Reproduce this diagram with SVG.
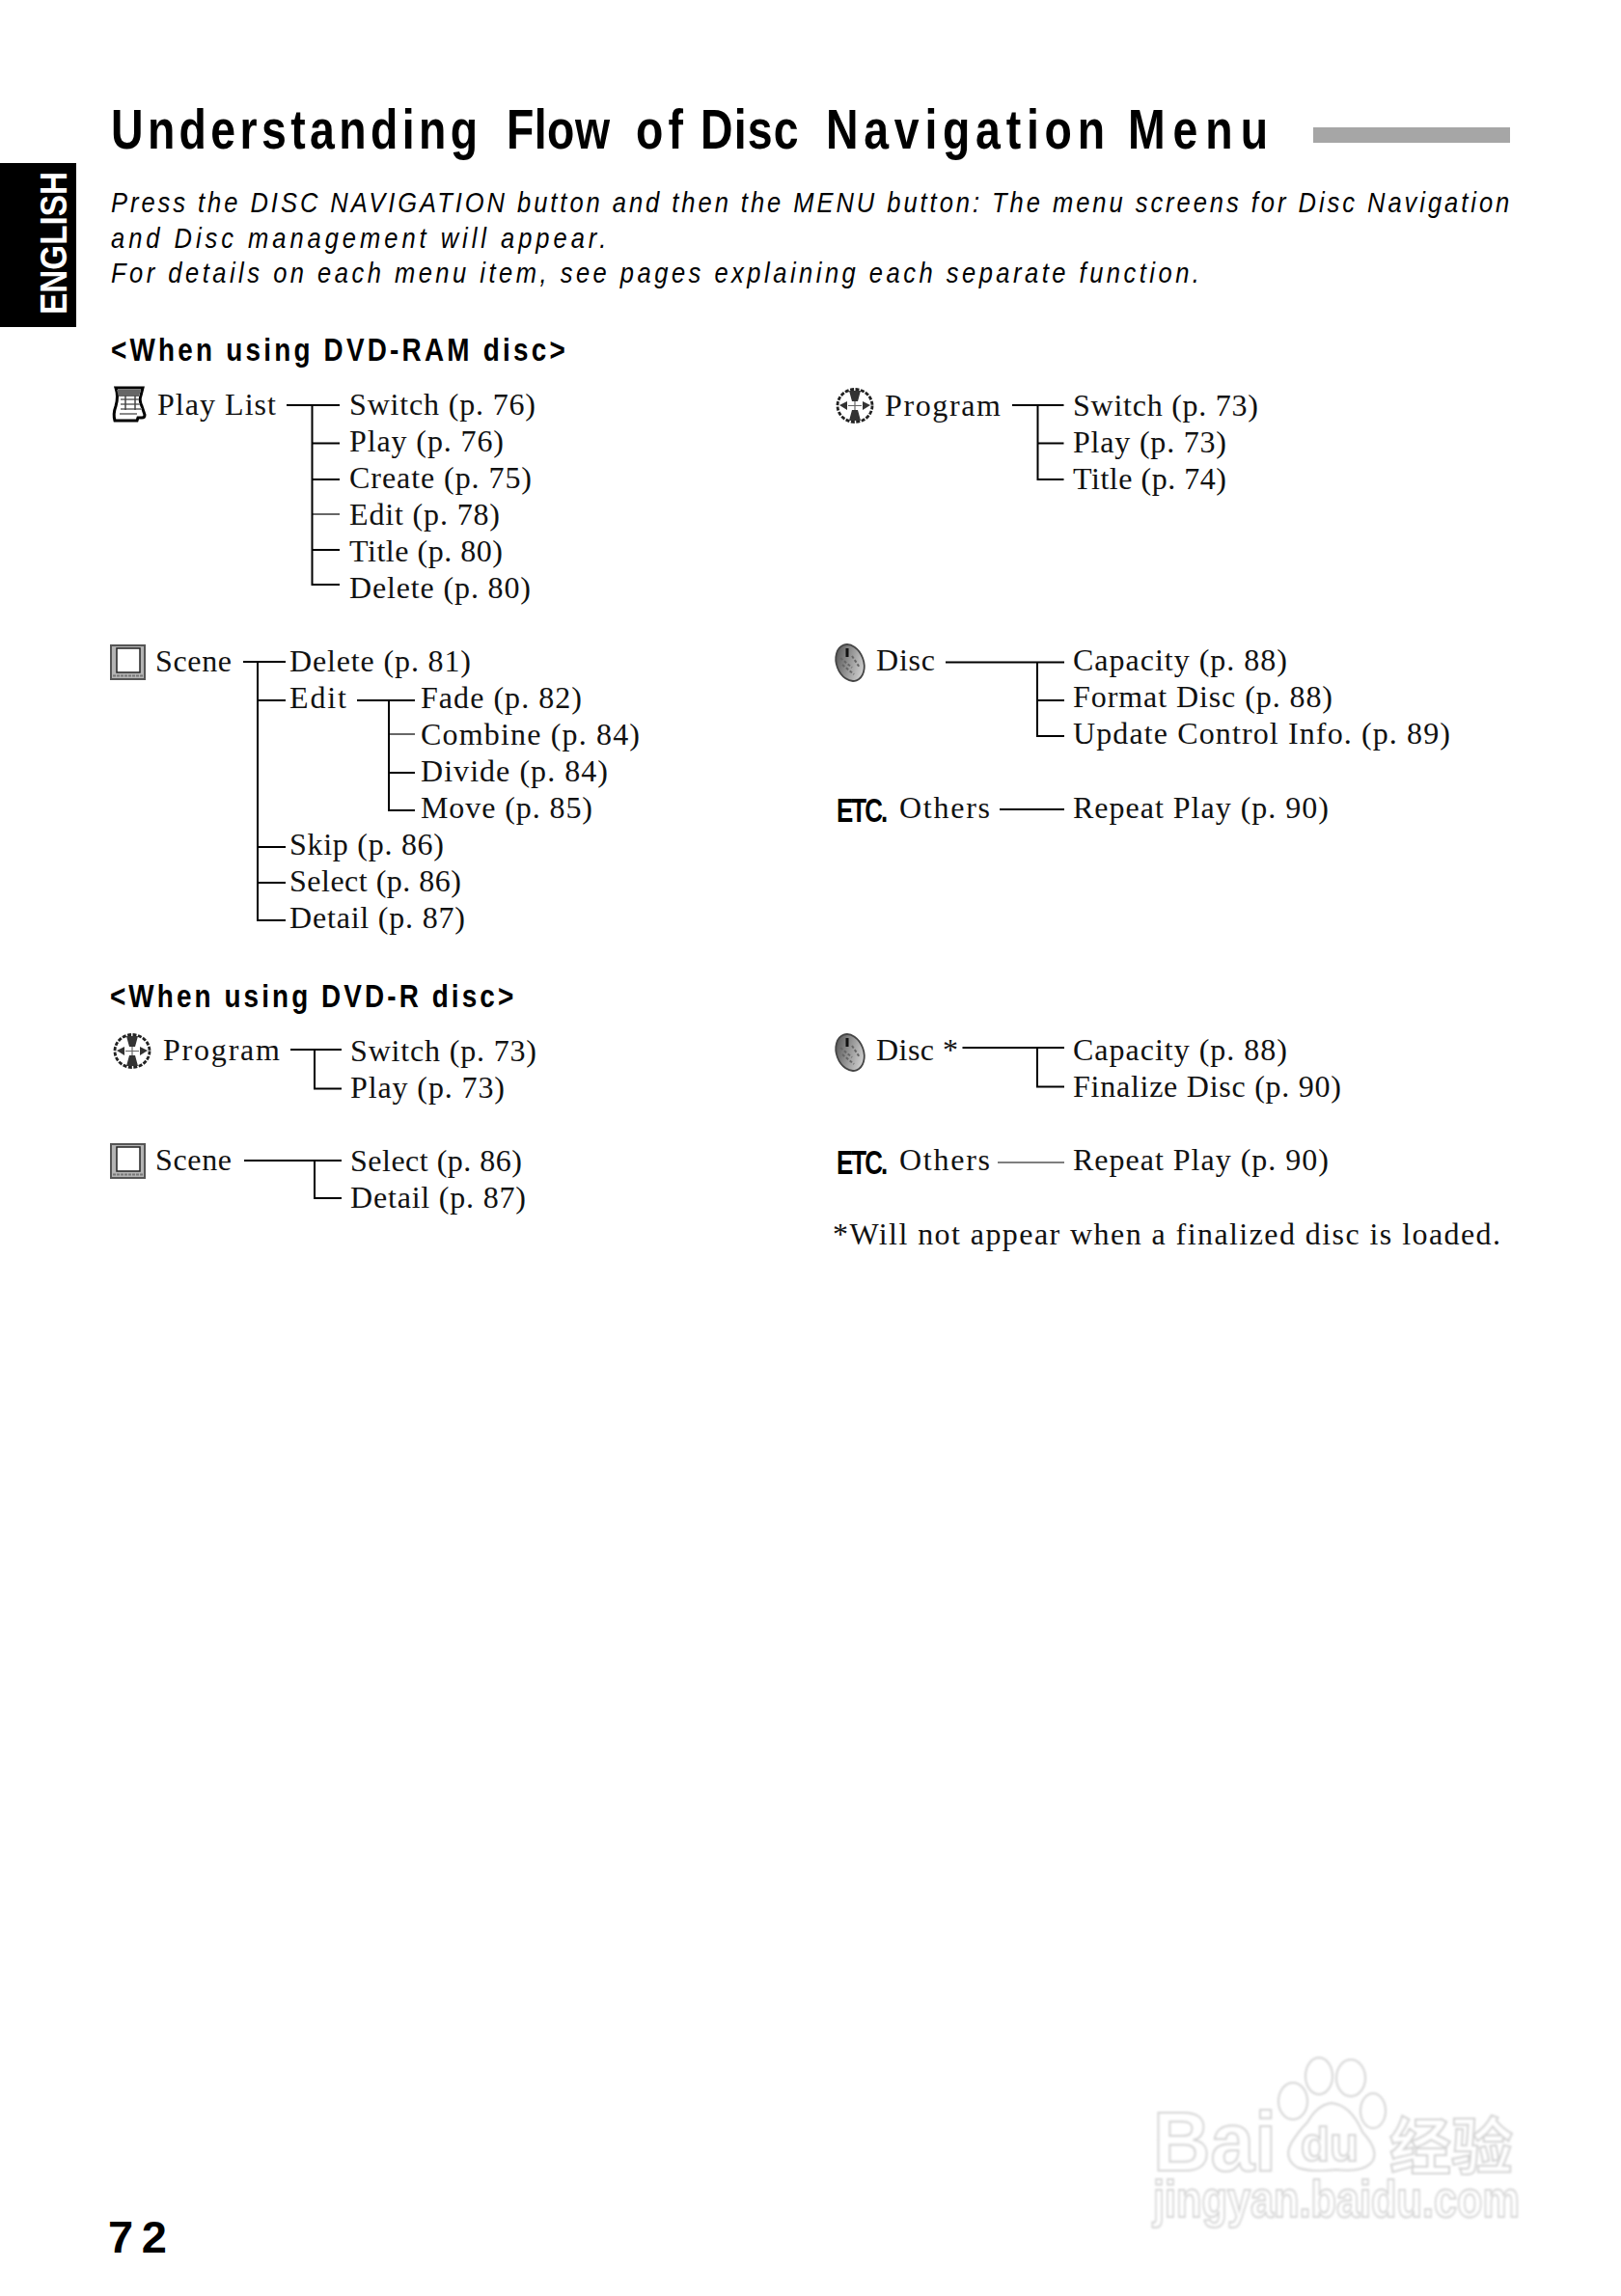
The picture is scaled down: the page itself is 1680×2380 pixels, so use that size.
<svg xmlns="http://www.w3.org/2000/svg" width="1680" height="2380" viewBox="0 0 1680 2380">
<style>
.t{font-family:"Liberation Serif","Times New Roman",serif;font-size:32px;fill:#111}
.h{font-family:"Liberation Sans",Arial,sans-serif;font-weight:700;fill:#000}
.b{font-family:"Liberation Sans",Arial,sans-serif;font-style:italic;font-size:30px;fill:#000}
.c{fill:none;stroke:#000;stroke-width:2}
.thin{stroke-width:1.2}
.wm{font-family:"Liberation Sans",Arial,sans-serif;font-weight:700;fill:#fff;stroke:#d4d4d4;stroke-width:2}
</style>
<defs>
<filter id="soft" x="-5%" y="-5%" width="110%" height="110%"><feGaussianBlur stdDeviation="0.9"/></filter>
<linearGradient id="dg" x1="0" y1="0" x2="1" y2="1"><stop offset="0" stop-color="#444"/><stop offset=".5" stop-color="#999"/><stop offset="1" stop-color="#e8e8e8"/></linearGradient>
<symbol id="i-list" viewBox="0 0 35 37" overflow="visible">
<path d="M4 1H32L30 9Q28 14 31 20L34 29Q34 32 31 32L27 32L26 35H3Q1 28 4 20Q7 10 4 1Z" fill="#fff" stroke="#000" stroke-width="3"/>
<path d="M5 3H30L28 10H7Z" fill="#666"/>
<path d="M9 13H28M9 18H29M9 23H31M8 28H26" stroke="#888" stroke-width="2"/>
<path d="M14 9V24M24 9V24" stroke="#444" stroke-width="1.500"/>
</symbol>
<symbol id="i-prog" viewBox="0 0 40 37" overflow="visible">
<ellipse cx="20" cy="18.500" rx="18" ry="17" fill="#fff" stroke="#222" stroke-width="2.800" stroke-dasharray="4 1.500"/>
<path d="M14 3H26L23 14H17ZM14 34H26L23 23H17Z" fill="#333"/>
<path d="M4 18L12 14V23ZM36 18L28 14V23Z" fill="#333"/>
<path d="M13 18.500H27M20 14V23" stroke="#666" stroke-width="1.200"/>
</symbol>
<symbol id="i-scene" viewBox="0 0 37 37" overflow="visible">
<rect x="1" y="1" width="35" height="35" fill="#b4b4b4" stroke="#555" stroke-width="2"/>
<rect x="7" y="4" width="24" height="25" fill="#fff" stroke="#222" stroke-width="1.500"/>
<path d="M3 32.500H34" stroke="#777" stroke-width="2" stroke-dasharray="3 1"/>
</symbol>
<symbol id="i-disc" viewBox="0 0 36 38" overflow="visible">
<ellipse cx="18" cy="19" rx="14" ry="19.500" transform="rotate(-20 18 19)" fill="url(#dg)" stroke="#444" stroke-width="1.800"/>
<path d="M15 4V13" stroke="#111" stroke-width="3"/>
<path d="M8 14L20 24M10 21L22 31M20 12L28 24" stroke="#666" stroke-width="2" stroke-dasharray="3 2"/>
</symbol>
</defs>
<rect width="1680" height="2380" fill="#fff"/>

<g id="header">
<text class="h" font-size="58" transform="translate(0,154) scale(.8,1)"><tspan x="143.750" textLength="475">Understanding</tspan> <tspan x="656.250" textLength="133.750">Flow</tspan> <tspan x="823.750" textLength="61.250">of</tspan> <tspan x="907.500" textLength="126.900">Disc</tspan> <tspan x="1070" textLength="361.250">Navigation</tspan> <tspan x="1461.250" textLength="181.250">Menu</tspan></text>
<rect x="1361" y="132" width="204" height="16" fill="#a6a6a6"/>
<rect x="0" y="169" width="79" height="170" fill="#000"/>
<text class="h" font-size="38" style="fill:#fff" transform="translate(69,326) rotate(-90)" textLength="148" lengthAdjust="spacingAndGlyphs">ENGLISH</text>
<text class="b" transform="translate(115,220) scale(.85,1)" textLength="1705">Press the DISC NAVIGATION button and then the MENU button: The menu screens for Disc Navigation</text>
<text class="b" transform="translate(115,257) scale(.85,1)" textLength="604">and Disc management will appear.</text>
<text class="b" transform="translate(115,293) scale(.85,1)" textLength="1327">For details on each menu item, see pages explaining each separate function.</text>
<text class="h" font-size="34" transform="translate(115,374) scale(.82,1)" textLength="574">&lt;When using DVD-RAM disc&gt;</text>
<text class="h" font-size="34" transform="translate(114,1044) scale(.82,1)" textLength="510">&lt;When using DVD-R disc&gt;</text>
<text class="h" font-size="47" x="112" y="2335" textLength="61">72</text>
</g>

<g id="connectors">
<path class="c" d="M297 420H352M323.500 420V606H352M323.500 459.500H352M323.500 497H352M323.500 570H352"/>
<path class="c thin" d="M323.500 533H352"/>
<path class="c" d="M1049 420H1102.500M1075.500 420V497H1102.500M1075.500 459.500H1102.500"/>
<path class="c" d="M252 686H296M267 686V954H296M267 726H296M267 878H296M267 915H296"/>
<path class="c" d="M370 726H430M403 726V840H430M403 801H430"/>
<path class="c thin" d="M403 761H430"/>
<path class="c" d="M980 686.500H1103M1075 686.500V763H1103M1075 726H1103"/>
<path class="c" d="M1036 839H1103"/>
<path class="c" d="M301 1088H354M326 1088V1128.500H354"/>
<path class="c" d="M253 1203H354M326 1203V1242H354"/>
<path class="c" d="M997.500 1086H1103M1075 1086V1126.500H1103"/>
<path class="c thin" d="M1034 1205H1103"/>
</g>

<g id="node-playlist-ram">
<use href="#i-list" x="116" y="401" width="35" height="37"/>
<text class="t" x="163" y="430" textLength="123">Play List</text>
<text class="t" x="362" y="430" textLength="193">Switch (p. 76)</text>
<text class="t" x="362" y="468" textLength="160">Play (p. 76)</text>
<text class="t" x="362" y="506" textLength="189">Create (p. 75)</text>
<text class="t" x="362" y="544" textLength="156">Edit (p. 78)</text>
<text class="t" x="362" y="582" textLength="159">Title (p. 80)</text>
<text class="t" x="362" y="620" textLength="188">Delete (p. 80)</text>
</g>
<g id="node-program-ram">
<use href="#i-prog" x="866" y="402" width="40" height="37"/>
<text class="t" x="917" y="431" textLength="120">Program</text>
<text class="t" x="1112" y="431" textLength="192">Switch (p. 73)</text>
<text class="t" x="1112" y="469" textLength="159">Play (p. 73)</text>
<text class="t" x="1112" y="507" textLength="159">Title (p. 74)</text>
</g>
<g id="node-scene-ram">
<use href="#i-scene" x="114" y="668" width="37" height="37"/>
<text class="t" x="161" y="696" textLength="79">Scene</text>
<text class="t" x="300" y="696" textLength="188">Delete (p. 81)</text>
<text class="t" x="300" y="734" textLength="59">Edit</text>
<text class="t" x="436" y="734" textLength="167">Fade (p. 82)</text>
<text class="t" x="436" y="772" textLength="227">Combine (p. 84)</text>
<text class="t" x="436" y="810" textLength="194">Divide (p. 84)</text>
<text class="t" x="436" y="848" textLength="178">Move (p. 85)</text>
<text class="t" x="300" y="886" textLength="160">Skip (p. 86)</text>
<text class="t" x="300" y="924" textLength="178">Select (p. 86)</text>
<text class="t" x="300" y="962" textLength="182">Detail (p. 87)</text>
</g>
<g id="node-disc-ram">
<use href="#i-disc" x="863" y="668" width="36" height="38"/>
<text class="t" x="908" y="695" textLength="61">Disc</text>
<text class="t" x="1112" y="695" textLength="222">Capacity (p. 88)</text>
<text class="t" x="1112" y="733" textLength="269">Format Disc (p. 88)</text>
<text class="t" x="1112" y="771" textLength="391">Update Control Info. (p. 89)</text>
</g>
<g id="node-others-ram">
<text class="h" font-size="36" transform="translate(867,852) scale(.72,1)" textLength="74">ETC.</text>
<text class="t" x="932" y="848" textLength="94">Others</text>
<text class="t" x="1112" y="848" textLength="265">Repeat Play (p. 90)</text>
</g>
<g id="node-program-r">
<use href="#i-prog" x="117" y="1071" width="40" height="37"/>
<text class="t" x="169" y="1099" textLength="121">Program</text>
<text class="t" x="363" y="1100" textLength="193">Switch (p. 73)</text>
<text class="t" x="363" y="1138" textLength="160">Play (p. 73)</text>
</g>
<g id="node-scene-r">
<use href="#i-scene" x="114" y="1185" width="37" height="37"/>
<text class="t" x="161" y="1213" textLength="79">Scene</text>
<text class="t" x="363" y="1214" textLength="178">Select (p. 86)</text>
<text class="t" x="363" y="1252" textLength="182">Detail (p. 87)</text>
</g>
<g id="node-disc-r">
<use href="#i-disc" x="863" y="1072" width="36" height="38"/>
<text class="t" x="908" y="1099" textLength="85">Disc *</text>
<text class="t" x="1112" y="1099" textLength="222">Capacity (p. 88)</text>
<text class="t" x="1112" y="1137" textLength="278">Finalize Disc (p. 90)</text>
</g>
<g id="node-others-r">
<text class="h" font-size="36" transform="translate(867,1217) scale(.72,1)" textLength="74">ETC.</text>
<text class="t" x="932" y="1213" textLength="94">Others</text>
<text class="t" x="1112" y="1213" textLength="265">Repeat Play (p. 90)</text>
</g>
<text class="t" x="863" y="1290" textLength="692">*Will not appear when a finalized disc is loaded.</text>

<g id="watermark" filter="url(#soft)">
<g fill="#fff" stroke="#d4d4d4" stroke-width="2">
<ellipse cx="1340" cy="2178" rx="15" ry="19"/>
<ellipse cx="1367" cy="2152" rx="14" ry="19"/>
<ellipse cx="1400" cy="2154" rx="15" ry="19"/>
<ellipse cx="1423" cy="2188" rx="13" ry="18"/>
<path d="M1380 2180Q1400 2182 1412 2210Q1432 2232 1420 2243Q1410 2252 1385 2249Q1360 2252 1345 2247Q1330 2238 1338 2222Q1345 2210 1355 2200Q1365 2182 1380 2180Z"/>
</g>
<text class="wm" font-size="88" x="1195" y="2250" textLength="128" lengthAdjust="spacingAndGlyphs">Bai</text>
<text class="wm" font-size="50" x="1348" y="2240" textLength="60" lengthAdjust="spacingAndGlyphs">du</text>
<text class="wm" font-size="64" x="1440" y="2248" textLength="128" style="font-family:'Noto Sans CJK SC',sans-serif">经验</text>
<text class="wm" font-size="54" x="1195" y="2298" textLength="380" lengthAdjust="spacingAndGlyphs">jingyan.baidu.com</text>
</g>
</svg>
